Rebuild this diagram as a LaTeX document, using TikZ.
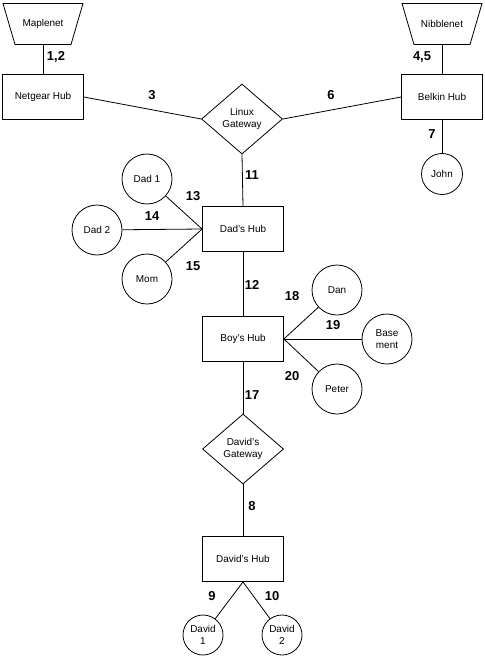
\documentclass[tikz,border=0pt]{standalone}
\usepackage{fontspec}
\setmainfont{Liberation Sans}
\usetikzlibrary{shapes.geometric, positioning}

\begin{document}
\begin{tikzpicture}[x=1bp,y=-1bp,line width=0.8bp,
  hub/.style={draw,minimum width=81bp,minimum height=45bp,inner sep=0pt,font=\fontsize{10}{12}\selectfont},
  gate/.style={draw,diamond,aspect=1.15,minimum width=81bp,minimum height=70bp,inner sep=0pt,align=center,font=\fontsize{10}{12}\selectfont},
  net/.style={minimum width=80bp,minimum height=41bp,inner sep=0pt,outer sep=0pt,font=\fontsize{10}{12}\selectfont},
  pc/.style={draw,circle,minimum size=50bp,inner sep=0pt,align=center,font=\fontsize{10}{12}\selectfont},
  smallpc/.style={pc,minimum size=40bp},
  lbl/.style={font=\fontsize{13}{14}\selectfont\bfseries,inner sep=0pt}]
\useasboundingbox (0,0) rectangle (485,656);

% Outside networks
\node[net] (maple) at (43,24) {Maplenet};
\node[net] (nibble) at (442,24) {Nibblenet};
\foreach \n in {maple,nibble}
  \draw (\n.north west) -- (\n.north east) -- ([xshift=-12bp]\n.south east)
    -- ([xshift=12bp]\n.south west) -- cycle;

% Top hubs and gateway
\node[hub] (netgear) at (43,97) {Netgear Hub};
\node[hub] (belkin) at (442,97) {Belkin Hub};
\node[gate] (linux) at (242,119) {Linux\\Gateway};
\node[pc,minimum size=41bp] (john) at (442,174) {John};

% Dad's hub
\node[hub] (dadhub) at (243,229) {Dad's Hub};
\node[pc] (dad1) at (147,179) {Dad 1};
\node[pc] (dad2) at (97,230) {Dad 2};
\node[pc] (mom) at (147,279) {Mom};

% Boy's hub
\node[hub] (boyhub) at (243,339) {Boy's Hub};
\node[pc] (dan) at (337,290) {Dan};
\node[pc] (basement) at (387,339) {Base\\ment};
\node[pc] (peter) at (337,389) {Peter};

% David
\node[gate] (davidgw) at (243,449) {David's\\Gateway};
\node[hub] (davidhub) at (243,559) {David's Hub};
\node[smallpc] (david1) at (203,635) {David\\1};
\node[smallpc] (david2) at (282,635) {David\\2};

% Links
\draw (maple.south) -- (netgear);
\draw (nibble.south) -- (belkin);
\draw (netgear.east) -- (linux.west);
\draw (linux.east) -- (belkin.west);
\draw (belkin) -- (john);
\draw (linux.south) -- (dadhub.north);
\draw (dadhub.west) -- (dad1);
\draw (dadhub.west) -- (dad2);
\draw (dadhub.west) -- (mom);
\draw (dadhub) -- (boyhub);
\draw (boyhub.east) -- (dan);
\draw (boyhub.east) -- (basement);
\draw (boyhub.east) -- (peter);
\draw (boyhub.south) -- (davidgw.north);
\draw (davidgw.south) -- (davidhub.north);
\draw (davidhub.south) -- (david1);
\draw (davidhub.south) -- (david2);

% Link numbers
\node[lbl] (l12) at (56,57) {1,2};
\node[lbl] (l3) at (152,95) {3};
\node[lbl] (l45) at (422,57) {4,5};
\node[lbl] (l6) at (331,95) {6};
\node[lbl] (l7) at (432,134) {7};
\node[lbl] (l11) at (252,175) {11};
\node[lbl] (l13) at (193,196) {13};
\node[lbl] (l14) at (152,216) {14};
\node[lbl] (l15) at (193,266) {15};
\node[lbl] (l12b) at (252,285) {12};
\node[lbl] (l18) at (292,296) {18};
\node[lbl] (l19) at (333,325) {19};
\node[lbl] (l20) at (292,376) {20};
\node[lbl] (l17) at (252,395) {17};
\node[lbl] (l8) at (252,506) {8};
\node[lbl] (l9) at (212,596) {9};
\node[lbl] (l10) at (272,596) {10};
\end{tikzpicture}
\end{document}
